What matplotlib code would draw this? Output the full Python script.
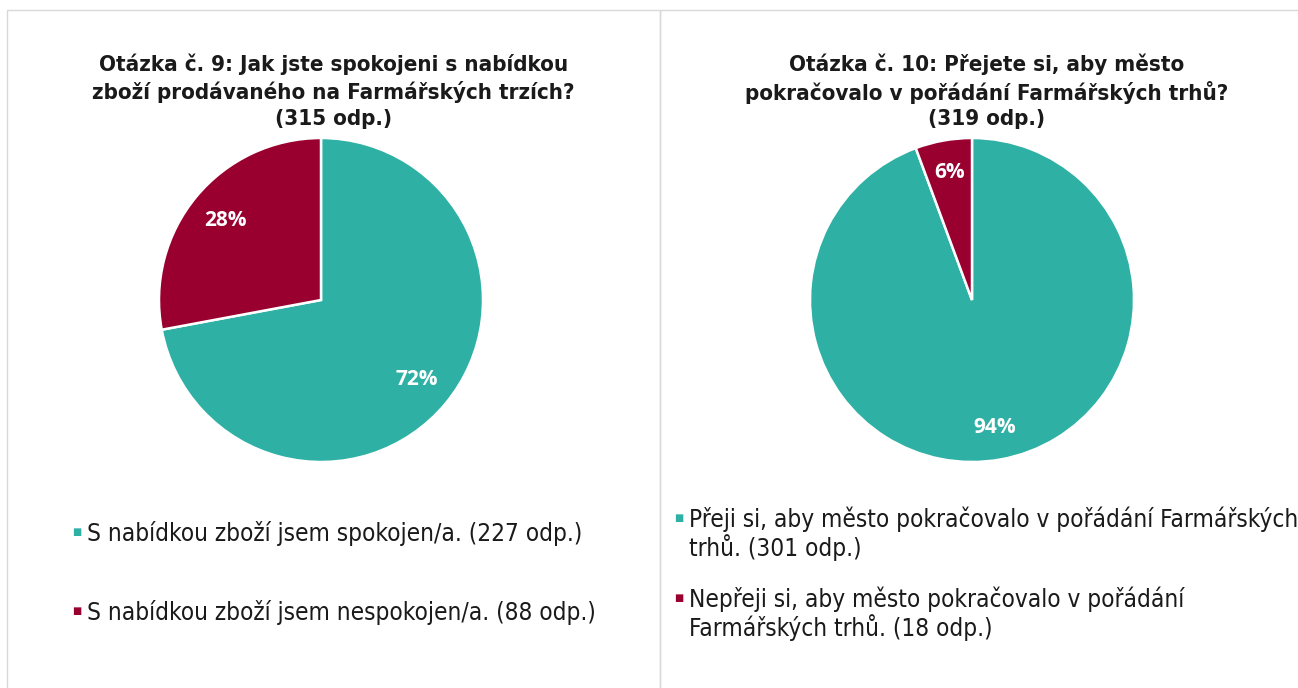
import matplotlib.pyplot as plt
from matplotlib.patches import Rectangle

# colours used in the source chart
teal = '#2EB0A5'
wine = '#9A002F'
border = '#D9D9D9'
ink = '#1A1A1A'

# question 9
q9_title = 'Otázka č. 9: Jak jste spokojeni s nabídkou\nzboží prodávaného na Farmářských trzích?\n(315 odp.)'
q9_labels = ['S nabídkou zboží jsem spokojen/a. (227 odp.)',
             'S nabídkou zboží jsem nespokojen/a. (88 odp.)']
q9_counts = [227, 88]

# question 10
q10_title = 'Otázka č. 10: Přejete si, aby město\npokračovalo v pořádání Farmářských trhů?\n(319 odp.)'
q10_labels = ['Přeji si, aby město pokračovalo v pořádání Farmářských\ntrhů. (301 odp.)',
              'Nepřeji si, aby město pokračovalo v pořádání\nFarmářských trhů. (18 odp.)']
q10_counts = [301, 18]

W, H = 1298, 688
fig = plt.figure(figsize=(W / 100, H / 100), dpi=100)
renderer = fig.canvas.get_renderer()

title_font = dict(family='DejaVu Sans', fontstretch='condensed', fontweight='bold')
legend_font = dict(family='DejaVu Sans', fontstretch='condensed')
pct_font = dict(family=['Open Sans', 'DejaVu Sans'], fontweight='bold', fontsize=15, color='white')


def fy(y):
    return 1 - y / H


def text_box(s, **kw):
    t = fig.text(0, 0, s, **kw)
    bb = t.get_window_extent(renderer)
    t.remove()
    return bb


def fit_size(font_kw, sample, width_px):
    # font size (pt) that makes sample text about width_px wide
    return 10 * width_px / text_box(sample, fontsize=10, **font_kw).width


def fit_spacing(font_kw, s, gap_px):
    # linespacing that puts the lines of s about gap_px apart
    lines = s.split('\n')
    n = len(lines) - 1
    h1 = text_box(lines[0], linespacing=1, **font_kw).height
    a = text_box(s, linespacing=1, **font_kw).height - h1
    b = text_box(s, linespacing=2, **font_kw).height - h1
    return 1 + (n * gap_px - a) / (b - a)


title_size = fit_size(title_font, 'zboží prodávaného na Farmářských trzích?', 480)
legend_size = fit_size(legend_font, q9_labels[0], 495)
title_font['fontsize'] = title_size
legend_font['fontsize'] = legend_size
title_px = title_size * 100 / 72
legend_px = legend_size * 100 / 72

# panel frames
fig.add_artist(Rectangle((7 / W, -0.01), 653 / W, (H - 10) / H + 0.01,
                         transform=fig.transFigure, fill=False, ec=border, lw=1))
fig.add_artist(Rectangle((660 / W, -0.01), (W - 660) / W + 0.01, (H - 10) / H + 0.01,
                         transform=fig.transFigure, fill=False, ec=border, lw=1))


def draw_panel(cx, cy, r, title, title_left, counts, labels, leg_x, leg_y, line_gap, pctdist):
    ax = fig.add_axes([(cx - r) / W, fy(cy + r), 2 * r / W, 2 * r / H])
    wedges, _, autotexts = ax.pie(counts, colors=[teal, wine], startangle=90, counterclock=False,
                                  autopct=lambda p: '%.0f%%' % p, pctdistance=pctdist,
                                  wedgeprops=dict(edgecolor='white', linewidth=1.8),
                                  textprops=pct_font)
    ax.set_xlim(-1, 1)
    ax.set_ylim(-1, 1)

    # title: three lines at ~62, 89, 116 px from the top
    fig.text(title_left / W, fy(89 + 0.1 * title_px), title, ha='left', va='center',
             multialignment='center', linespacing=fit_spacing(title_font, title, 27),
             color=ink, **title_font)

    cap = 0.73 * legend_px
    for w, lab, y in zip(wedges, labels, leg_y):
        nlines = lab.count('\n')
        ls = fit_spacing(legend_font, lab, line_gap) if nlines else 1.2
        fig.text((leg_x - 10) / W, fy(y), '\u25A0', color=w.get_facecolor(), fontsize=7,
                 ha='center', va='center', family='DejaVu Sans')
        fig.text(leg_x / W, fy(y + nlines * line_gap + cap / 2), lab, ha='left', va='baseline',
                 linespacing=ls, color=ink, **legend_font)


draw_panel(321, 300, 162, q9_title, 92, q9_counts, q9_labels, 87, [532, 611], 29, 0.77)
draw_panel(972, 300, 162, q10_title, 745, q10_counts, q10_labels, 689, [518, 598], 29, 0.8)

fig.savefig('out.png', dpi=100)
